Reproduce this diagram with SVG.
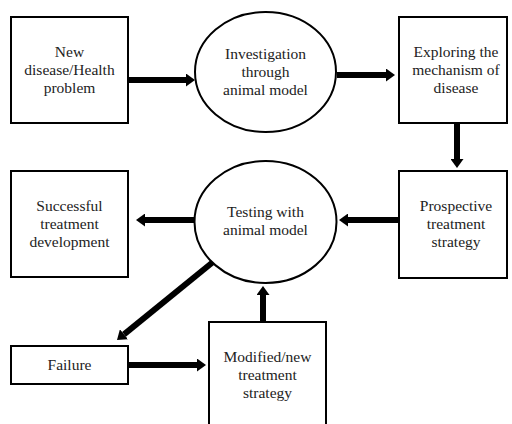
<svg xmlns="http://www.w3.org/2000/svg" width="512" height="424" viewBox="0 0 512 424">
<style>
.box{fill:#fff;stroke:#000;stroke-width:2}
.oval{fill:#fff;stroke:#000;stroke-width:2}
.c{stroke:#000;stroke-width:6;fill:none}
</style>
<defs>
<marker id="ah" viewBox="0 0 9 13" refX="0" refY="6.5" markerWidth="9" markerHeight="13" markerUnits="userSpaceOnUse" orient="auto"><path d="M0,0 L9,6.5 L0,13 Z" fill="#000"/></marker>
</defs>
<rect width="512" height="424" fill="#fff"/>
<g id="connectors">
<line class="c" x1="128" y1="80" x2="186" y2="80" marker-end="url(#ah)"/>
<line class="c" x1="337" y1="75" x2="386" y2="75" marker-end="url(#ah)"/>
<line class="c" x1="457" y1="123" x2="457" y2="159" marker-end="url(#ah)"/>
<line class="c" x1="398" y1="220" x2="348" y2="220" marker-end="url(#ah)"/>
<line class="c" x1="194" y1="220" x2="145" y2="220" marker-end="url(#ah)"/>
<line class="c" x1="213" y1="262" x2="124" y2="334.3" marker-end="url(#ah)"/>
<line class="c" x1="128" y1="365" x2="197" y2="365" marker-end="url(#ah)"/>
<line class="c" x1="263" y1="322" x2="263" y2="295" marker-end="url(#ah)"/>
</g>
<g font-family="Liberation Serif, Times New Roman, serif" font-size="15.5" text-anchor="middle" fill="#222">
<g id="n1">
<rect class="box" x="11" y="17" width="117" height="106"/>
<text x="69.5" y="57">New</text>
<text x="69.5" y="75">disease/Health</text>
<text x="69.5" y="93">problem</text>
</g>
<g id="n2">
<ellipse class="oval" cx="265.5" cy="72" rx="70.5" ry="60"/>
<text x="265.5" y="59">Investigation</text>
<text x="265.5" y="77">through</text>
<text x="265.5" y="95">animal model</text>
</g>
<g id="n3">
<rect class="box" x="399" y="17" width="108" height="106"/>
<text x="456" y="57">Exploring the</text>
<text x="456" y="75">mechanism of</text>
<text x="456" y="93">disease</text>
</g>
<g id="n4">
<rect class="box" x="399" y="171" width="108" height="107"/>
<text x="456" y="211">Prospective</text>
<text x="456" y="229">treatment</text>
<text x="456" y="247">strategy</text>
</g>
<g id="n5">
<ellipse class="oval" cx="265.5" cy="222" rx="71" ry="61"/>
<text x="265.5" y="217">Testing with</text>
<text x="265.5" y="235">animal model</text>
</g>
<g id="n6">
<rect class="box" x="11" y="171" width="117" height="106"/>
<text x="69.5" y="211">Successful</text>
<text x="69.5" y="229">treatment</text>
<text x="69.5" y="247">development</text>
</g>
<g id="n7">
<rect class="box" x="11" y="346" width="117" height="38"/>
<text x="69.5" y="370">Failure</text>
</g>
<g id="n8">
<rect class="box" x="209" y="322" width="117" height="110"/>
<text x="267.5" y="362">Modified/new</text>
<text x="267.5" y="380">treatment</text>
<text x="267.5" y="398">strategy</text>
</g>
</g>
</svg>
